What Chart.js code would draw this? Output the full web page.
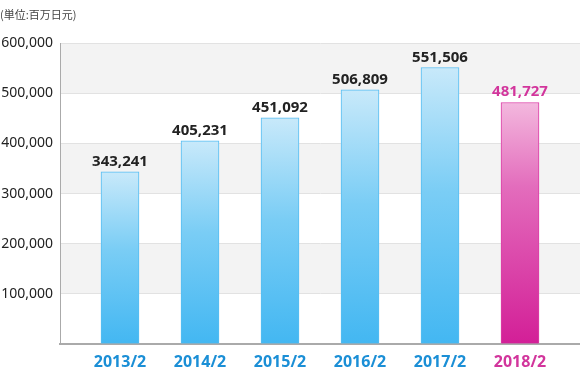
<!DOCTYPE html>
<html>
<head>
<meta charset="utf-8">
<script src="https://cdn.jsdelivr.net/npm/chart.js@4/dist/chart.umd.min.js"></script>
<style>
html,body{margin:0;padding:0;background:#fff;}
canvas{display:block;}
</style>
</head>
<body>
<canvas id="c" width="580" height="370"></canvas>
<script>
const categories = ['2013/2', '2014/2', '2015/2', '2016/2', '2017/2', '2018/2'];
const values = [343241, 405231, 451092, 506809, 551506, 481727];
const yTicks = [0, 100000, 200000, 300000, 400000, 500000, 600000];
const unitLabel = '(単位:百万日元)';

const BLUE_TEXT = '#1b8fd6';
const PINK_TEXT = '#d2359c';
const FONT = '"Noto Sans", "Open Sans", sans-serif';
const last = categories.length - 1;

function barGradient(ctx) {
  const chart = ctx.chart;
  const i = ctx.dataIndex;
  const pink = i === last;
  if (!chart.chartArea || i === undefined) return pink ? '#de4fae' : '#5cc2f4';
  const ys = chart.scales.y;
  const top = ys.getPixelForValue(values[i]);
  const bottom = ys.getPixelForValue(0);
  const g = chart.ctx.createLinearGradient(0, top, 0, bottom);
  if (pink) {
    g.addColorStop(0, '#f3b8de');
    g.addColorStop(0.35, '#e36cbc');
    g.addColorStop(1, '#d31f97');
  } else {
    g.addColorStop(0, '#c8e9fa');
    g.addColorStop(0.45, '#7acdf5');
    g.addColorStop(1, '#43b7f2');
  }
  return g;
}

const bandsPlugin = {
  id: 'bands',
  beforeDraw(chart) {
    const ys = chart.scales.y;
    const area = chart.chartArea;
    const c = chart.ctx;
    c.save();
    for (let k = 0; k < yTicks.length - 1; k++) {
      if (k % 2 === 1) {
        const y1 = ys.getPixelForValue(yTicks[k + 1]);
        const y0 = ys.getPixelForValue(yTicks[k]);
        c.fillStyle = '#f3f3f3';
        c.fillRect(area.left, y1, area.right - area.left, y0 - y1);
      }
    }
    c.restore();
  }
};

const labelsPlugin = {
  id: 'valueLabels',
  afterDatasetsDraw(chart) {
    const meta = chart.getDatasetMeta(0);
    const c = chart.ctx;
    c.save();
    c.font = 'bold 15px ' + FONT;
    c.textAlign = 'center';
    c.textBaseline = 'alphabetic';
    meta.data.forEach((el, i) => {
      c.fillStyle = i === last ? PINK_TEXT : '#222';
      c.fillText(values[i].toLocaleString('en-US'), el.x, el.y - 6);
    });
    c.restore();
  }
};

new Chart(document.getElementById('c'), {
  type: 'bar',
  data: {
    datasets: [{
      data: values.map((v, i) => ({x: i, y: v})),
      backgroundColor: barGradient,
      borderColor: (ctx) => ctx.dataIndex === last ? '#dc3ea6' : '#55bdf2',
      borderWidth: 1,
      barThickness: 38
    }]
  },
  options: {
    responsive: false,
    devicePixelRatio: 1,
    animation: false,
    layout: {padding: {left: 0, right: 0, top: 0, bottom: 0}},
    plugins: {
      legend: {display: false},
      tooltip: {enabled: false},
      title: {
        display: true,
        text: unitLabel,
        align: 'start',
        color: '#444',
        font: {family: '"Noto Sans CJK JP", sans-serif', size: 11, weight: 'normal', lineHeight: 1.2},
        padding: {top: 8, bottom: 22}
      }
    },
    scales: {
      x: {
        type: 'linear',
        min: -0.75,
        max: 5.75,
        offset: false,
        grid: {display: false, offset: false, drawTicks: false},
        border: {display: true, color: '#aaaaaa', width: 2},
        ticks: {
          autoSkip: false,
          maxRotation: 0,
          padding: 9,
          font: {family: FONT, size: 16, weight: 'bold'},
          color: (ctx) => ctx.tick && ctx.tick.value === last ? PINK_TEXT : BLUE_TEXT,
          callback: (v) => (Number.isInteger(v) && v >= 0 && v <= last) ? categories[v] : ''
        },
        afterBuildTicks: (s) => { s.ticks = categories.map((_, i) => ({value: i})); },
        afterFit: (s) => { s.height = 26; s.paddingLeft = 0; s.paddingRight = 0; }
      },
      y: {
        min: 0,
        max: 600000,
        grid: {color: '#e2e2e2', lineWidth: 1, drawTicks: false},
        border: {display: true, color: '#aaaaaa', width: 1},
        ticks: {
          stepSize: 100000,
          padding: 7,
          color: '#222',
          font: {family: FONT, size: 14},
          callback: (v) => v === 0 ? '' : v.toLocaleString('en-US')
        },
        afterFit: (s) => { s.width = 60; }
      }
    }
  },
  plugins: [bandsPlugin, labelsPlugin]
});
</script>
</body>
</html>
